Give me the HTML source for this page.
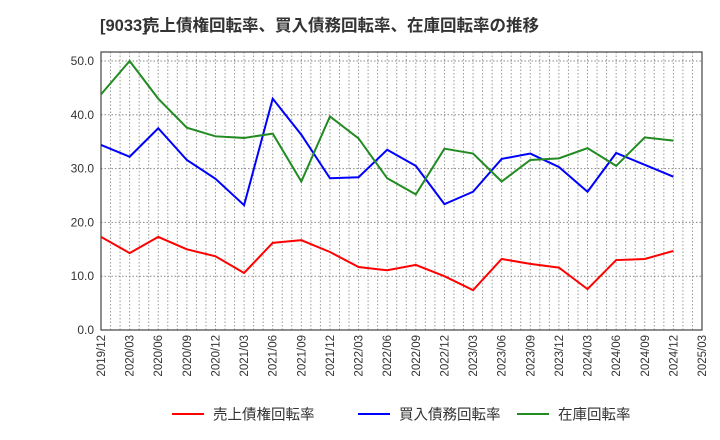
<!DOCTYPE html>
<html><head><meta charset="utf-8"><style>
body{margin:0;background:#fff;font-family:"Liberation Sans","Noto Sans CJK JP",sans-serif}
</style></head><body>
<svg id="c" width="720" height="440" style="display:block"></svg>
<script>
const categories=["2019/12","2020/03","2020/06","2020/09","2020/12","2021/03","2021/06","2021/09","2021/12","2022/03","2022/06","2022/09","2022/12","2023/03","2023/06","2023/09","2023/12","2024/03","2024/06","2024/09","2024/12"];
const tickLabels=["2019/12","2020/03","2020/06","2020/09","2020/12","2021/03","2021/06","2021/09","2021/12","2022/03","2022/06","2022/09","2022/12","2023/03","2023/06","2023/09","2023/12","2024/03","2024/06","2024/09","2024/12","2025/03"];
const yTicks=[0,10,20,30,40,50];
const receivables=[17.3,14.3,17.3,15.0,13.7,10.6,16.2,16.7,14.5,11.7,11.1,12.1,10.0,7.4,13.2,12.3,11.6,7.6,13.0,13.2,14.7];
const payables=[34.4,32.2,37.5,31.6,28.1,23.2,43.0,36.3,28.2,28.4,33.5,30.5,23.4,25.7,31.8,32.8,30.3,25.7,32.9,30.7,28.5];
const inventory=[43.8,50.0,43.0,37.6,36.0,35.7,36.5,27.6,39.7,35.6,28.2,25.2,33.7,32.8,27.6,31.6,31.9,33.8,30.5,35.8,35.2];
const NS="http://www.w3.org/2000/svg",svg=document.getElementById('c');
const L=101,R=702,T=52,B=330,Q=(R-L)/21;
const xq=i=>L+i*Q, y=v=>B-v*(B-61)/50;
function mk(t,a,p){const e=document.createElementNS(NS,t);for(const k in a)e.setAttribute(k,a[k]);(p||svg).appendChild(e);return e;}
const tg=mk('g',{});


let t=mk('text',{x:100,y:31,'font-size':16.5,'font-weight':'bold',fill:'#333'},tg);t.textContent='[9033]';
let t2=mk('text',{x:143,y:31,'font-size':16.5,'font-weight':'bold',fill:'#333'},tg);t2.textContent='売上債権回転率、買入債務回転率、在庫回転率の推移';
const g=mk('g',{});
for(let m=1;m<63;m++){const x=L+m*Q/3;mk('line',{x1:x,x2:x,y1:T,y2:B,stroke:'#999','stroke-dasharray':'1.5,2','stroke-width':1},g);}
yTicks.forEach(v=>{if(v>0)mk('line',{x1:L,x2:R,y1:y(v),y2:y(v),stroke:'#888','stroke-dasharray':'1.5,2','stroke-width':1},g);
 const l=mk('text',{x:L-7,y:y(v)+4,'text-anchor':'end','font-size':12,fill:'#333'});l.textContent=v.toFixed(1);
 });
tickLabels.forEach((s,i)=>{const x=xq(i);const l=mk('text',{x:0,y:0,'text-anchor':'end','font-size':11.5,fill:'#333',transform:`translate(${x+4},${B+5}) rotate(-90)`});l.textContent=s;
 });
const fr=mk('rect',{x:L,y:T,width:R-L,height:B-T,fill:'none',stroke:'#444','stroke-width':1.2});

[[receivables,'#f00','receivables-line'],[payables,'#00f','payables-line'],[inventory,'#228b22','inventory-line']].forEach(([d,c,n])=>{
 const p=mk('polyline',{points:d.map((v,i)=>xq(i)+','+y(v)).join(' '),fill:'none',stroke:c,'stroke-width':2});
 });
[['売上債権回転率','#f00',172],['買入債務回転率','#00f',358],['在庫回転率','#228b22',517]].forEach(([s,c,x])=>{
 const lg=mk('g',{});
 mk('line',{x1:x,x2:x+32,y1:414,y2:414,stroke:c,'stroke-width':2},lg);
 const tx=mk('text',{x:x+41,y:419.5,'font-size':14.5,fill:'#333'},lg);tx.textContent=s;});
</script></body></html>
